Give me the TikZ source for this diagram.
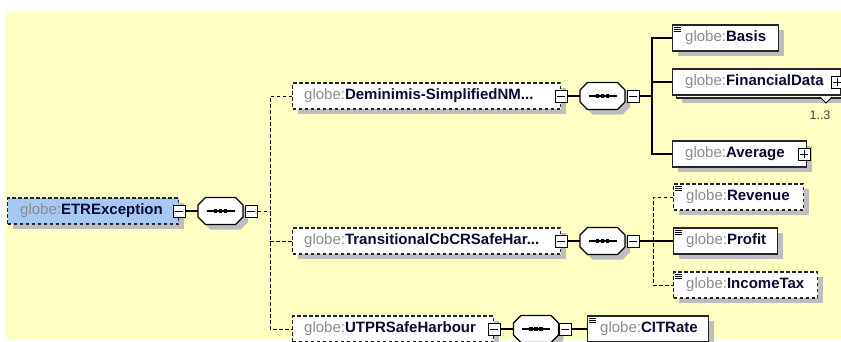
\documentclass[tikz,border=0pt]{standalone}
\usepackage{fontspec}
\setmainfont{Liberation Sans}
\usetikzlibrary{shadows,calc}
\definecolor{bgy}{HTML}{FFFFC4}
\definecolor{selblue}{HTML}{A6C8F2}
\definecolor{shd}{HTML}{BDBDBD}
\definecolor{pfx}{HTML}{8C8C8C}
\definecolor{nm}{HTML}{0A0A32}
\definecolor{occ}{HTML}{404040}
\newcommand{\pf}{\textcolor{pfx}{globe:}}
\newcommand{\nmt}[1]{\textcolor{nm}{\bfseries #1}}
\newcommand{\octpath}{(-22.5,-6) -- (-15,-13.5) -- (15,-13.5) -- (22.5,-6) -- (22.5,6) -- (15,13.5) -- (-15,13.5) -- (-22.5,6) -- cycle}
\newcommand{\seqdraw}[1]{%
  \begin{scope}[shift={(#1.center)}]
    \fill[shd, shift={(5,5)}] \octpath;
    \draw[fill=white, line width=1.2pt] \octpath;
    \draw[line width=1.2pt] (-14,0) -- (14,0);
    \foreach \dx in {-5,0,5} \fill ($(\dx,0)+(-1.6,-1.6)$) rectangle ($(\dx,0)+(1.6,1.6)$);
  \end{scope}}
\newcommand{\simp}[1]{%
  \foreach \dy in {3,5,7} \draw[line width=0.8pt] ($(#1.north west)+(2,\dy)$) -- +(7,0);}
\begin{document}
\begin{tikzpicture}[x=1pt,y=-1pt,
  elembase/.style={draw=black!85, line width=1.2pt, fill=white, minimum height=26pt, inner sep=0pt, anchor=west},
  elem/.style={elembase, drop shadow={shadow xshift=5pt, shadow yshift=-5pt, fill=shd, opacity=1}},
  opt/.style={elem, dash pattern=on 3.5pt off 2.5pt},
  lbl/.style={anchor=west, inner sep=0pt, font=\fontsize{15}{18}\selectfont},
  pm/.style={draw=black, fill=white, line width=1pt, minimum size=12pt, inner sep=0pt},
  minusbox/.style={pm, path picture={\draw[line width=1pt] ([xshift=2pt]path picture bounding box.west) -- ([xshift=-2pt]path picture bounding box.east);}},
  plusbox/.style={pm, path picture={\draw[line width=1pt] ([xshift=2pt]path picture bounding box.west) -- ([xshift=-2pt]path picture bounding box.east) ([yshift=-2pt]path picture bounding box.north) -- ([yshift=2pt]path picture bounding box.south);}},
  conn/.style={draw=black, line width=1.1pt},
  dconn/.style={draw=black, line width=1pt, dash pattern=on 3.5pt off 2.5pt},
  seqbox/.style={minimum width=45pt, minimum height=27pt, inner sep=0pt},
  occlbl/.style={inner sep=0pt, text=occ, font=\fontsize{12.5}{14}\selectfont}
]
\useasboundingbox (0,0) rectangle (841,341);
\fill[white] (0,0) rectangle (841,341);
\fill[bgy] (6,11) rectangle (841,339);

% ---- root
\node[opt, fill=selblue, minimum width=171pt] (etr) at (7,211) {};
\node[lbl] (etrl) at ([xshift=13pt]etr.west) {\pf\nmt{ETRException}};
\node[minusbox] (etrm) at (etr.east) {};
\node[seqbox] (s1) at (220.5,211) {};
\seqdraw{s1}
\node[minusbox] (s1m) at (251,211) {};
\coordinate (j1) at (270,211);

% ---- level 1
\node[opt, minimum width=268pt] (dem) at (292,96) {};
\node[lbl] (deml) at ([xshift=12pt]dem.west) {\pf\nmt{Deminimis-SimplifiedNM...}};
\node[minusbox] (demm) at (dem.east) {};

\node[opt, minimum width=268pt] (tr) at (292,241) {};
\node[lbl] (trl) at ([xshift=12pt]tr.west) {\pf\nmt{TransitionalCbCRSafeHar...}};
\node[minusbox] (trm) at (tr.east) {};

\node[opt, minimum width=201pt] (utpr) at (292,329) {};
\node[lbl] (utprl) at ([xshift=12pt]utpr.west) {\pf\nmt{UTPRSafeHarbour}};
\node[minusbox] (utprm) at (utpr.east) {};

% ---- sequences level 1
\node[seqbox] (s2) at (602.5,96) {};
\seqdraw{s2}
\node[minusbox] (s2m) at (633,96) {};
\coordinate (j2) at (652,96);

\node[seqbox] (s3) at (602.5,241) {};
\seqdraw{s3}
\node[minusbox] (s3m) at (633,241) {};
\coordinate (j3) at (653,241);

\node[seqbox] (s4) at (536,329) {};
\seqdraw{s4}
\node[minusbox] (s4m) at (565,329) {};

% ---- level 2 (Deminimis)
\node[elem, minimum width=106pt] (basis) at (672,38) {};
\node[lbl] (basisl) at ([xshift=13pt]basis.west) {\pf\nmt{Basis}};
\simp{basis}

\node[elem, minimum width=168pt] (fdb) at (676,85) {};
\node[elembase, minimum width=168pt] (fd) at (672,82) {};
\node[lbl] (fdl) at ([xshift=13pt]fd.west) {\pf\nmt{FinancialData}};
\node[plusbox] (fdp) at ([xshift=-4pt]fd.east) {};
\draw[fill=white, line width=0.8pt] (820,97) -- (826,103) -- (832,97);
\node[occlbl] (fdo) at (820,115) {1..3};

\node[elem, minimum width=134pt] (avg) at (672,154) {};
\node[lbl] (avgl) at ([xshift=13pt]avg.west) {\pf\nmt{Average}};
\node[plusbox] (avgp) at ([xshift=-3pt]avg.east) {};

% ---- level 2 (Transitional)
\node[opt, minimum width=130pt] (rev) at (673,197) {};
\node[lbl] (revl) at ([xshift=13pt]rev.west) {\pf\nmt{Revenue}};
\simp{rev}
\node[elem, minimum width=104pt] (prof) at (673,241) {};
\node[lbl] (profl) at ([xshift=13pt]prof.west) {\pf\nmt{Profit}};
\simp{prof}
\node[opt, minimum width=144pt] (itax) at (673,285) {};
\node[lbl] (itaxl) at ([xshift=13pt]itax.west) {\pf\nmt{IncomeTax}};
\simp{itax}

% ---- level 2 (UTPR)
\node[elem, minimum width=121pt] (cit) at (587,329) {};
\node[lbl] (citl) at ([xshift=13pt]cit.west) {\pf\nmt{CITRate}};
\simp{cit}

% ---- connectors
\draw[conn] (etrm) -- (s1);
\draw[dconn] (s1m.east) -- (j1);
\draw[dconn] (dem.west) -- (dem.west -| j1) -- (utpr.west -| j1) -- (utpr.west);
\draw[dconn] (tr.west -| j1) -- (tr.west);

\draw[conn] (demm) -- (s2);
\draw[conn] (s2m.east) -- (j2);
\draw[conn] (basis.west) -- (basis.west -| j2) -- (avg.west -| j2) -- (avg.west);
\draw[conn] (fd.west -| j2) -- (fd.west);

\draw[conn] (trm) -- (s3);
\draw[dconn] (rev.west) -- (rev.west -| j3) -- (itax.west -| j3) -- (itax.west);
\draw[conn] (s3m.east) -- (prof.west);

\draw[conn] (utprm) -- (s4);
\draw[conn] (s4m.east) -- (cit.west);
\end{tikzpicture}
\end{document}
